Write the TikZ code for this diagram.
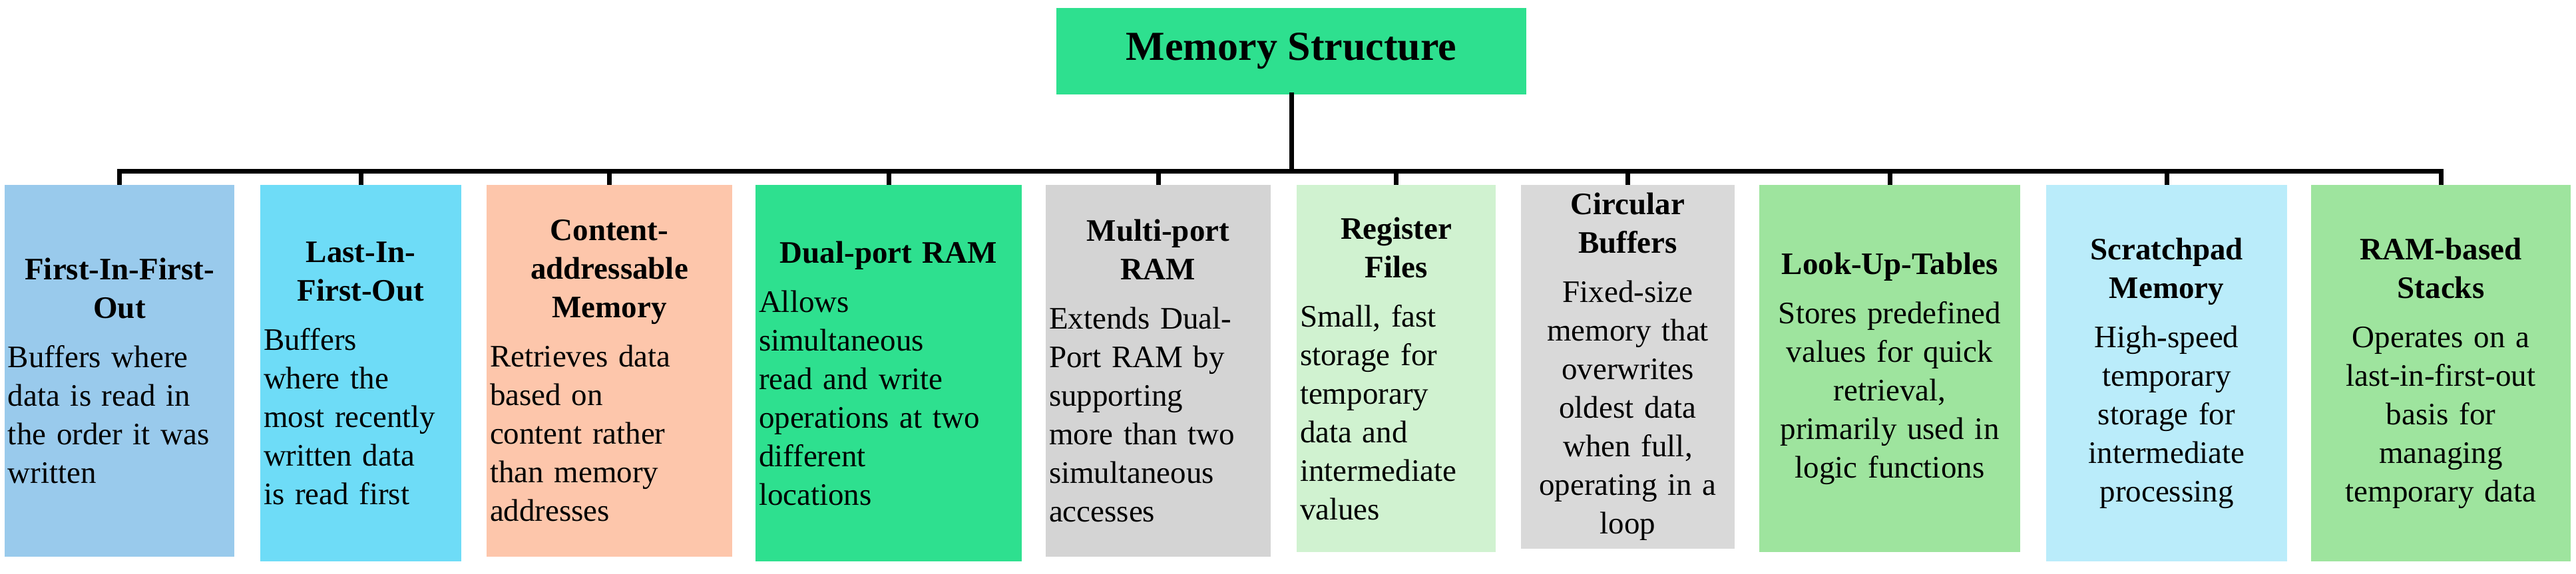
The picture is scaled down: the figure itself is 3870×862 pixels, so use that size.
\documentclass[tikz,border=0pt]{standalone}
\usepackage{fontspec}
\setmainfont{Liberation Serif}
\definecolor{c1}{HTML}{99CAEC}
\definecolor{c2}{HTML}{6EDCF7}
\definecolor{c3}{HTML}{FDC6AB}
\definecolor{c4}{HTML}{2EE08F}
\definecolor{c5}{HTML}{D4D4D4}
\definecolor{c6}{HTML}{D0F2D0}
\definecolor{c7}{HTML}{D9D9D9}
\definecolor{c8}{HTML}{9EE49E}
\definecolor{c9}{HTML}{BAECFA}
\newcommand\myhd[1]{{\centering\bfseries #1\par}\vspace{16pt}}
\begin{document}
\begin{tikzpicture}[x=1pt,y=-1pt,
  box/.style={draw=none,rectangle,inner xsep=5pt,inner ysep=0pt,font=\fontsize{47}{58}\selectfont},
  conn/.style={line width=7pt,line cap=rect}]
\useasboundingbox (0,0) rectangle (3870,862);
\node[fill=c4,minimum width=706pt,minimum height=130pt,font=\fontsize{62}{70}\selectfont\bfseries] (t) at (1940,77) {Memory Structure};
\coordinate (bus) at (0,257);
\node[box,fill=c1,minimum width=345pt,minimum height=559pt,text width=335pt,align=left] (b1) at (179.5,557.5) {\myhd{First-In-First-\\Out}Buffers where\\data is read in\\the order it was\\written};
\node[box,fill=c2,minimum width=302pt,minimum height=566pt,text width=292pt,align=left] (b2) at (542,561) {\myhd{Last-In-\\First-Out}Buffers\\where the\\most recently\\written data\\is read first};
\node[box,fill=c3,minimum width=369pt,minimum height=559pt,text width=359pt,align=left] (b3) at (915.5,557.5) {\myhd{Content-\\addressable\\Memory}Retrieves data\\based on\\content rather\\than memory\\addresses};
\node[box,fill=c4,minimum width=400pt,minimum height=566pt,text width=390pt,align=left] (b4) at (1335,561) {\myhd{Dual-port RAM}Allows\\simultaneous\\read and write\\operations at two\\different\\locations};
\node[box,fill=c5,minimum width=338pt,minimum height=559pt,text width=328pt,align=left] (b5) at (1740,557.5) {\myhd{Multi-port\\RAM}Extends Dual-\\Port RAM by\\supporting\\more than two\\simultaneous\\accesses};
\node[box,fill=c6,minimum width=299pt,minimum height=552pt,text width=289pt,align=left] (b6) at (2097.5,554) {\myhd{Register\\Files}Small, fast\\storage for\\temporary\\data and\\intermediate\\values};
\node[box,fill=c7,minimum width=321pt,minimum height=547pt,text width=311pt,align=center] (b7) at (2445.5,551.5) {\myhd{Circular\\Buffers}Fixed-size\\memory that\\overwrites\\oldest data\\when full,\\operating in a\\loop};
\node[box,fill=c8,minimum width=392pt,minimum height=552pt,text width=382pt,align=center] (b8) at (2839,554) {\myhd{Look-Up-Tables}Stores predefined\\values for quick\\retrieval,\\primarily used in\\logic functions};
\node[box,fill=c9,minimum width=362pt,minimum height=566pt,text width=352pt,align=center] (b9) at (3255,561) {\myhd{Scratchpad\\Memory}High-speed\\temporary\\storage for\\intermediate\\processing};
\node[box,fill=c8,minimum width=390pt,minimum height=566pt,text width=380pt,align=center] (b10) at (3667,561) {\myhd{RAM-based\\Stacks}Operates on a\\last-in-first-out\\basis for\\managing\\temporary data};
\draw[conn] (t.south) -- (t.south |- bus);
\draw[conn] (b1.north |- bus) -- (b10.north |- bus);
\foreach \b in {b1,b2,b3,b4,b5,b6,b7,b8,b9,b10}
  \draw[line width=7pt] (\b.north |- bus) -- (\b.north);
\end{tikzpicture}
\end{document}
